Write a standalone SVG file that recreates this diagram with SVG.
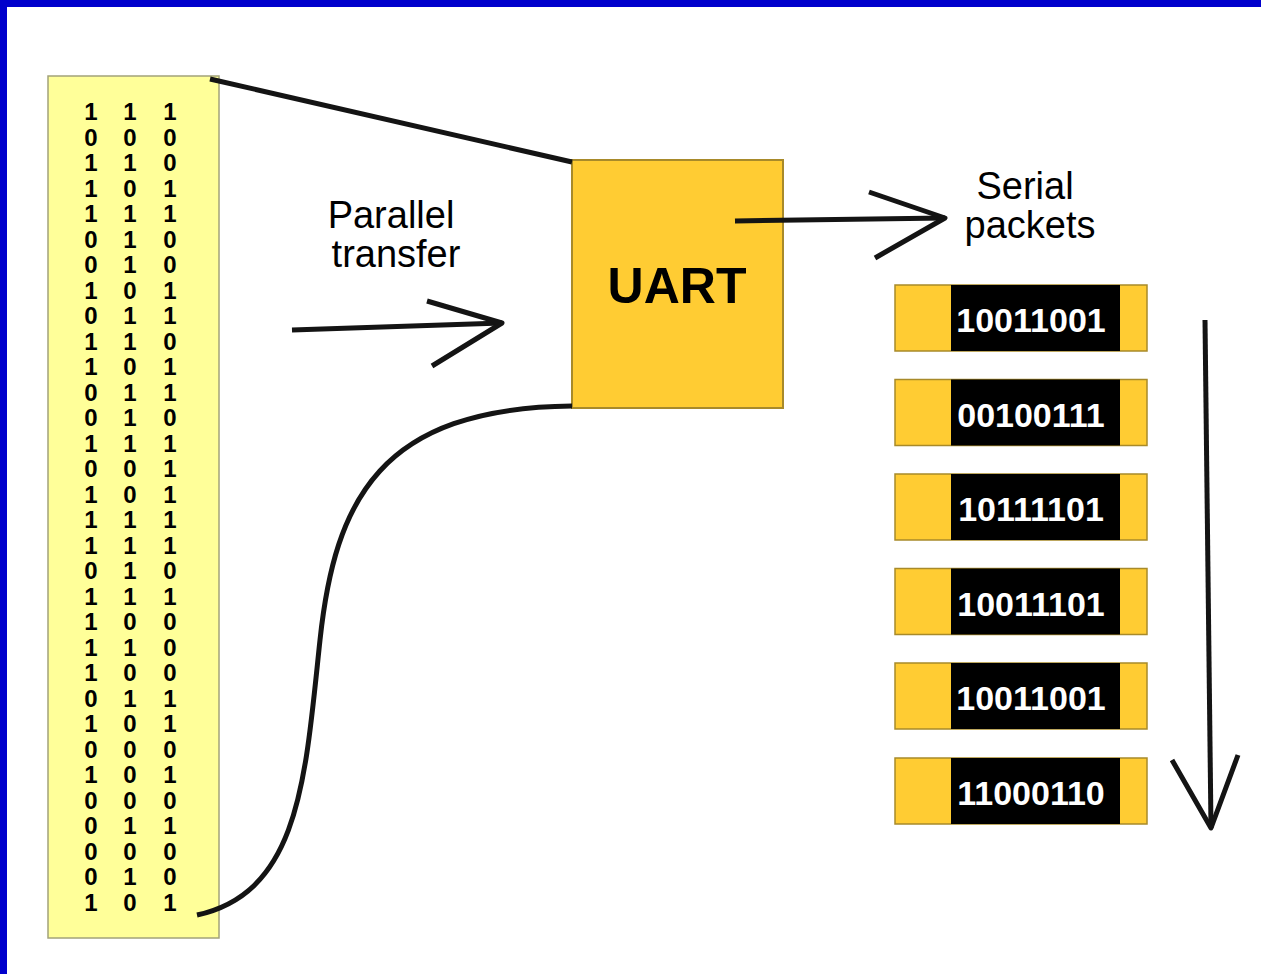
<svg xmlns="http://www.w3.org/2000/svg" width="1261" height="974" viewBox="0 0 1261 974">
  <style>
    .wire { fill: none; stroke: #141414; stroke-width: 5; stroke-linecap: butt; stroke-linejoin: round; }
    .bits { font-family: "Liberation Sans", Arial, sans-serif; font-weight: bold; font-size: 24px; fill: #000; text-anchor: middle; }
    .label { font-family: "Liberation Sans", Arial, sans-serif; font-size: 38px; fill: #000; text-anchor: middle; }
    .pkt-end { fill: #FFCC33; stroke: #A88A2A; stroke-width: 1.5; }
    .pkt-body { fill: #000; }
    .pkt-text { font-family: "Liberation Sans", Arial, sans-serif; font-weight: bold; font-size: 34px; fill: #fff; text-anchor: middle; }
  </style>

  <rect x="0" y="0" width="1261" height="974" fill="#fff"/>
  <!-- frame edges -->
  <rect x="0" y="0" width="1261" height="7" fill="#0000CC"/>
  <rect x="0" y="0" width="7" height="974" fill="#0000CC"/>

  <!-- parallel data word stack -->
  <g id="parallel-data">
    <rect x="48" y="76" width="171" height="862" fill="#FFFF99" stroke="#A3A37A" stroke-width="1.5"/>
    <g class="bits">
      <text x="91" y="120">1</text><text x="130" y="120">1</text><text x="170" y="120">1</text>
      <text x="91" y="145.5">0</text><text x="130" y="145.5">0</text><text x="170" y="145.5">0</text>
      <text x="91" y="171">1</text><text x="130" y="171">1</text><text x="170" y="171">0</text>
      <text x="91" y="196.5">1</text><text x="130" y="196.5">0</text><text x="170" y="196.5">1</text>
      <text x="91" y="222">1</text><text x="130" y="222">1</text><text x="170" y="222">1</text>
      <text x="91" y="247.5">0</text><text x="130" y="247.5">1</text><text x="170" y="247.5">0</text>
      <text x="91" y="273">0</text><text x="130" y="273">1</text><text x="170" y="273">0</text>
      <text x="91" y="298.5">1</text><text x="130" y="298.5">0</text><text x="170" y="298.5">1</text>
      <text x="91" y="324">0</text><text x="130" y="324">1</text><text x="170" y="324">1</text>
      <text x="91" y="349.5">1</text><text x="130" y="349.5">1</text><text x="170" y="349.5">0</text>
      <text x="91" y="375">1</text><text x="130" y="375">0</text><text x="170" y="375">1</text>
      <text x="91" y="400.5">0</text><text x="130" y="400.5">1</text><text x="170" y="400.5">1</text>
      <text x="91" y="426">0</text><text x="130" y="426">1</text><text x="170" y="426">0</text>
      <text x="91" y="451.5">1</text><text x="130" y="451.5">1</text><text x="170" y="451.5">1</text>
      <text x="91" y="477">0</text><text x="130" y="477">0</text><text x="170" y="477">1</text>
      <text x="91" y="502.5">1</text><text x="130" y="502.5">0</text><text x="170" y="502.5">1</text>
      <text x="91" y="528">1</text><text x="130" y="528">1</text><text x="170" y="528">1</text>
      <text x="91" y="553.5">1</text><text x="130" y="553.5">1</text><text x="170" y="553.5">1</text>
      <text x="91" y="579">0</text><text x="130" y="579">1</text><text x="170" y="579">0</text>
      <text x="91" y="604.5">1</text><text x="130" y="604.5">1</text><text x="170" y="604.5">1</text>
      <text x="91" y="630">1</text><text x="130" y="630">0</text><text x="170" y="630">0</text>
      <text x="91" y="655.5">1</text><text x="130" y="655.5">1</text><text x="170" y="655.5">0</text>
      <text x="91" y="681">1</text><text x="130" y="681">0</text><text x="170" y="681">0</text>
      <text x="91" y="706.5">0</text><text x="130" y="706.5">1</text><text x="170" y="706.5">1</text>
      <text x="91" y="732">1</text><text x="130" y="732">0</text><text x="170" y="732">1</text>
      <text x="91" y="757.5">0</text><text x="130" y="757.5">0</text><text x="170" y="757.5">0</text>
      <text x="91" y="783">1</text><text x="130" y="783">0</text><text x="170" y="783">1</text>
      <text x="91" y="808.5">0</text><text x="130" y="808.5">0</text><text x="170" y="808.5">0</text>
      <text x="91" y="834">0</text><text x="130" y="834">1</text><text x="170" y="834">1</text>
      <text x="91" y="859.5">0</text><text x="130" y="859.5">0</text><text x="170" y="859.5">0</text>
      <text x="91" y="885">0</text><text x="130" y="885">1</text><text x="170" y="885">0</text>
      <text x="91" y="910.5">1</text><text x="130" y="910.5">0</text><text x="170" y="910.5">1</text>
    </g>
  </g>

  <!-- UART block -->
  <g id="uart">
    <rect x="572" y="160" width="211" height="248" fill="#FFCC33" stroke="#A88A2A" stroke-width="2"/>
    <text x="677" y="303" font-family="'Liberation Sans', Arial, sans-serif" font-weight="bold" font-size="50" text-anchor="middle" fill="#000">UART</text>
  </g>

  <!-- connectors (drawn over the UART block, the output arrow starts inside it) -->
  <g id="connectors">
    <!-- funnel edges from the data stack into the UART -->
    <path class="wire" d="M210,79 L572,162"/>
    <path class="wire" d="M197,915 C300,892 305,780 320,640 C335,500 380,408 572,406"/>
    <!-- parallel transfer arrow -->
    <path class="wire" d="M292,330 L502,323"/>
    <path class="wire" d="M427,301 L502,323 L432,366"/>
    <!-- serial output arrow -->
    <path class="wire" d="M735,221 L945,218"/>
    <path class="wire" d="M869,192 L945,218 L875,258"/>
    <!-- packet order arrow -->
    <path class="wire" d="M1205,320 L1211,828"/>
    <path class="wire" d="M1172,760 L1211,828 L1238,755"/>
  </g>

  <!-- labels -->
  <g id="label-parallel">
    <text class="label" x="391" y="228">Parallel</text>
    <text class="label" x="396" y="267">transfer</text>
  </g>
  <g id="label-serial">
    <text class="label" x="1025" y="199">Serial</text>
    <text class="label" x="1030" y="238">packets</text>
  </g>

  <!-- serial packets -->
  <g id="packet-1">
    <rect class="pkt-end" x="895" y="285" width="252" height="66"/>
    <rect class="pkt-body" x="951" y="285" width="169" height="66"/>
    <text class="pkt-text" x="1031" y="332">10011001</text>
  </g>
  <g id="packet-2">
    <rect class="pkt-end" x="895" y="379.5" width="252" height="66"/>
    <rect class="pkt-body" x="951" y="379.5" width="169" height="66"/>
    <text class="pkt-text" x="1031" y="426.5">00100111</text>
  </g>
  <g id="packet-3">
    <rect class="pkt-end" x="895" y="474" width="252" height="66"/>
    <rect class="pkt-body" x="951" y="474" width="169" height="66"/>
    <text class="pkt-text" x="1031" y="521">10111101</text>
  </g>
  <g id="packet-4">
    <rect class="pkt-end" x="895" y="568.5" width="252" height="66"/>
    <rect class="pkt-body" x="951" y="568.5" width="169" height="66"/>
    <text class="pkt-text" x="1031" y="615.5">10011101</text>
  </g>
  <g id="packet-5">
    <rect class="pkt-end" x="895" y="663" width="252" height="66"/>
    <rect class="pkt-body" x="951" y="663" width="169" height="66"/>
    <text class="pkt-text" x="1031" y="710">10011001</text>
  </g>
  <g id="packet-6">
    <rect class="pkt-end" x="895" y="758" width="252" height="66"/>
    <rect class="pkt-body" x="951" y="758" width="169" height="66"/>
    <text class="pkt-text" x="1031" y="805">11000110</text>
  </g>
</svg>
